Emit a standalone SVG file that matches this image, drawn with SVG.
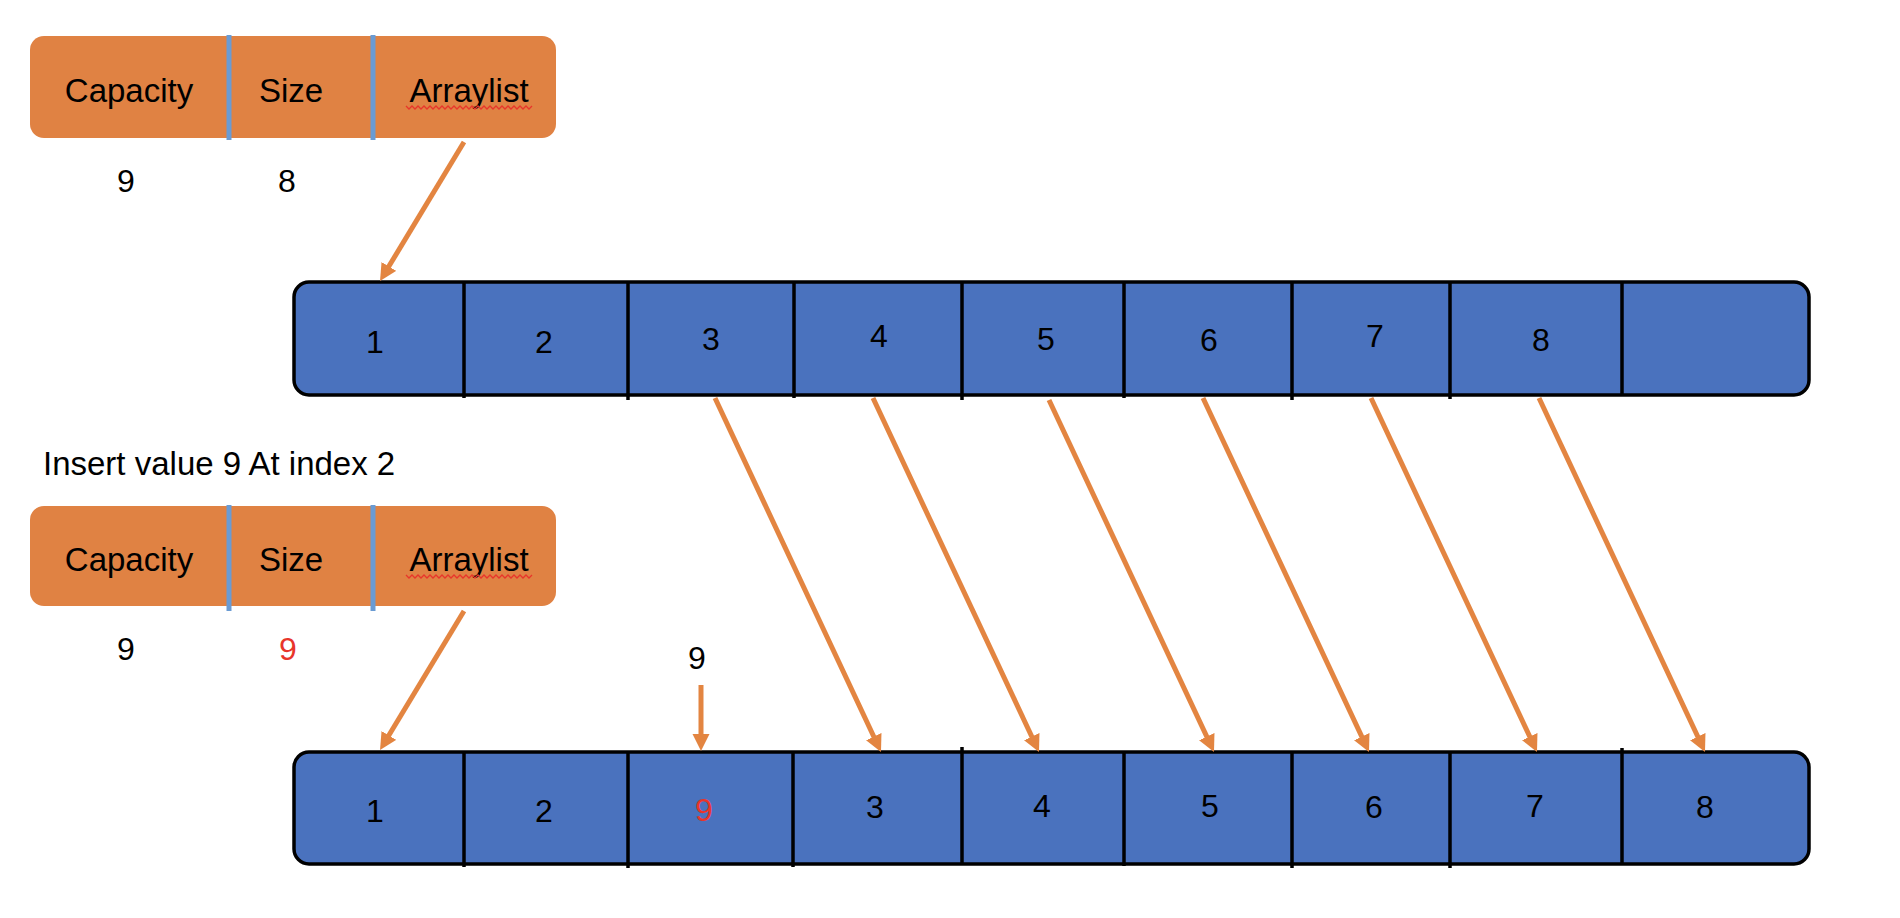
<svg xmlns="http://www.w3.org/2000/svg" width="1900" height="918" viewBox="0 0 1900 918">
<style>
text{font-family:"Liberation Sans",Arial,sans-serif;fill:#000;}
.lbl{font-size:33px;text-anchor:middle;}
.num{font-size:32px;text-anchor:middle;}
.red{fill:#E8352B;}
.obox{fill:#E08243;}
.odiv{stroke:#6A9BD3;stroke-width:5;}
.arr{fill:#4A72BE;stroke:#000;stroke-width:3.5;}
.cdiv{stroke:#000;stroke-width:3.5;}
.con{stroke:#E38541;stroke-width:5;fill:none;marker-end:url(#ah);}
.wavy{fill:none;stroke:#E8352B;stroke-width:1.3;}
</style>
<defs>
<marker id="ah" markerUnits="userSpaceOnUse" markerWidth="18" markerHeight="18" refX="1" refY="8.5" orient="auto">
<path d="M0,0 L17,8.5 L0,17 z" fill="#E38541"/>
</marker>
</defs>
<rect width="1900" height="918" fill="#fff"/>

<g id="header-top">
<rect class="obox" x="30" y="36" width="526" height="102" rx="14"/>
<line class="odiv" x1="229" y1="35" x2="229" y2="140"/>
<line class="odiv" x1="373" y1="35" x2="373" y2="140"/>
<text class="lbl" x="129" y="102">Capacity</text>
<text class="lbl" x="291" y="102">Size</text>
<text class="lbl" x="469" y="102">Arraylist</text>
<polyline class="wavy" points="406,106 409,109 412,106 415,109 418,106 421,109 424,106 427,109 430,106 433,109 436,106 439,109 442,106 445,109 448,106 451,109 454,106 457,109 460,106 463,109 466,106 469,109 472,106 475,109 478,106 481,109 484,106 487,109 490,106 493,109 496,106 499,109 502,106 505,109 508,106 511,109 514,106 517,109 520,106 523,109 526,106 529,109 532,106"/>
</g>
<g id="values-top">
<text class="num" x="126" y="192">9</text>
<text class="num" x="287" y="192">8</text>
</g>

<g id="array-top">
<rect class="arr" x="294" y="282" width="1515" height="113" rx="15"/>
<line class="cdiv" x1="464" y1="282" x2="464" y2="398"/>
<line class="cdiv" x1="628" y1="282" x2="628" y2="400"/>
<line class="cdiv" x1="794" y1="282" x2="794" y2="398"/>
<line class="cdiv" x1="962" y1="282" x2="962" y2="400"/>
<line class="cdiv" x1="1124" y1="282" x2="1124" y2="398"/>
<line class="cdiv" x1="1292" y1="282" x2="1292" y2="400"/>
<line class="cdiv" x1="1450" y1="282" x2="1450" y2="399"/>
<line class="cdiv" x1="1622" y1="282" x2="1622" y2="395"/>
<text class="num" x="375" y="353">1</text>
<text class="num" x="544" y="353">2</text>
<text class="num" x="711" y="350">3</text>
<text class="num" x="879" y="347">4</text>
<text class="num" x="1046" y="350">5</text>
<text class="num" x="1209" y="351">6</text>
<text class="num" x="1375" y="347">7</text>
<text class="num" x="1541" y="351">8</text>
</g>

<g id="caption">
<text x="43" y="475" style="font-size:33px">Insert value 9 At index 2</text>
</g>

<g id="header-bottom">
<rect class="obox" x="30" y="506" width="526" height="100" rx="14"/>
<line class="odiv" x1="229" y1="505" x2="229" y2="611"/>
<line class="odiv" x1="373" y1="505" x2="373" y2="611"/>
<text class="lbl" x="129" y="571">Capacity</text>
<text class="lbl" x="291" y="571">Size</text>
<text class="lbl" x="469" y="571">Arraylist</text>
<polyline class="wavy" points="406,575 409,578 412,575 415,578 418,575 421,578 424,575 427,578 430,575 433,578 436,575 439,578 442,575 445,578 448,575 451,578 454,575 457,578 460,575 463,578 466,575 469,578 472,575 475,578 478,575 481,578 484,575 487,578 490,575 493,578 496,575 499,578 502,575 505,578 508,575 511,578 514,575 517,578 520,575 523,578 526,575 529,578 532,575"/>
</g>
<g id="values-bottom">
<text class="num" x="126" y="660">9</text>
<text class="num red" x="288" y="660">9</text>
</g>

<g id="new-value">
<text class="num" x="697" y="669">9</text>
</g>

<g id="array-bottom">
<rect class="arr" x="294" y="752" width="1515" height="112" rx="15"/>
<line class="cdiv" x1="464" y1="752" x2="464" y2="867"/>
<line class="cdiv" x1="628" y1="752" x2="628" y2="868"/>
<line class="cdiv" x1="793" y1="752" x2="793" y2="867"/>
<line class="cdiv" x1="962" y1="747" x2="962" y2="864"/>
<line class="cdiv" x1="1124" y1="752" x2="1124" y2="866"/>
<line class="cdiv" x1="1292" y1="752" x2="1292" y2="868"/>
<line class="cdiv" x1="1450" y1="752" x2="1450" y2="868"/>
<line class="cdiv" x1="1622" y1="748" x2="1622" y2="864"/>
<text class="num" x="375" y="822">1</text>
<text class="num" x="544" y="822">2</text>
<text class="num red" x="704" y="821">9</text>
<text class="num" x="875" y="818">3</text>
<text class="num" x="1042" y="817">4</text>
<text class="num" x="1210" y="817">5</text>
<text class="num" x="1374" y="818">6</text>
<text class="num" x="1535" y="817">7</text>
<text class="num" x="1705" y="818">8</text>
</g>

<g id="connectors">
<line class="con" x1="464" y1="142" x2="388.3" y2="267.3"/>
<line class="con" x1="464" y1="611" x2="388.3" y2="736.3"/>
<line class="con" x1="701" y1="685" x2="701" y2="735"/>
<line class="con" x1="715" y1="398" x2="874.2" y2="737.5"/>
<line class="con" x1="873" y1="398" x2="1032.2" y2="737.5"/>
<line class="con" x1="1049" y1="400" x2="1207.2" y2="737.5"/>
<line class="con" x1="1203" y1="398" x2="1362.2" y2="737.5"/>
<line class="con" x1="1371" y1="398" x2="1530.2" y2="737.5"/>
<line class="con" x1="1539" y1="398" x2="1698.2" y2="737.5"/>
</g>
</svg>
